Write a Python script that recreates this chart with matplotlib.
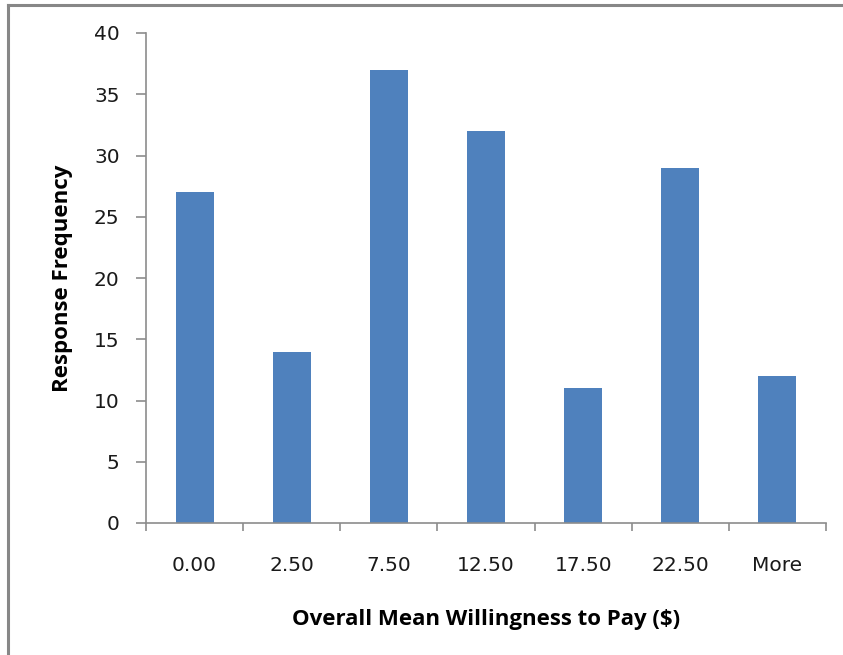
import numpy as np
import matplotlib
matplotlib.use('Agg')
import matplotlib.pyplot as plt
from matplotlib.lines import Line2D

categories = ['0.00', '2.50', '7.50', '12.50', '17.50', '22.50', 'More']
frequency = [27, 14, 37, 32, 11, 29, 12]

plt.rcParams.update({'font.family': ['DejaVu Sans']})

fig = plt.figure(figsize=(8.43, 6.55), dpi=100)
ax = fig.add_axes([146/843, 1 - 523/655, (826 - 146)/843, (523 - 33)/655])

x = np.arange(len(categories))
ax.bar(x, frequency, width=0.39, color='#4F81BD')

ax.set_xlim(-0.5, len(categories) - 0.5)
ax.set_ylim(0, 40)
ax.set_yticks(np.arange(0, 41, 5))
ax.set_xticks(x)
ax.set_xticklabels(categories)
ax.set_xticks(np.arange(-0.5, len(categories)), minor=True)

for s in ['top', 'right']:
    ax.spines[s].set_visible(False)
for s in ['left', 'bottom']:
    ax.spines[s].set_color('#8c8c8c')
    ax.spines[s].set_linewidth(1.2)

ax.tick_params(axis='y', direction='out', length=7, width=1.2, color='#8c8c8c',
               labelsize=14.5, pad=12, labelcolor='#1a1a1a')
ax.tick_params(axis='x', which='major', length=0, labelsize=14.5, pad=24, labelcolor='#1a1a1a')
ax.tick_params(axis='x', which='minor', direction='out', length=6, width=1.2, color='#8c8c8c')

lab_font = {'family': 'Open Sans', 'size': 16, 'weight': 'bold'}
ax.set_ylabel('Response Frequency', fontdict=lab_font, labelpad=15)
ax.set_xlabel('Overall Mean Willingness to Pay ($)', fontdict=lab_font, labelpad=24)

# border on left and top like the original chart frame
fig.add_artist(Line2D([8/843, 8/843], [0, 1 - 5/655], transform=fig.transFigure,
                      color='#878787', linewidth=2.2))
fig.add_artist(Line2D([8/843, 1], [1 - 5/655, 1 - 5/655], transform=fig.transFigure,
                      color='#878787', linewidth=2.2))

fig.savefig('out.png', dpi=100)
